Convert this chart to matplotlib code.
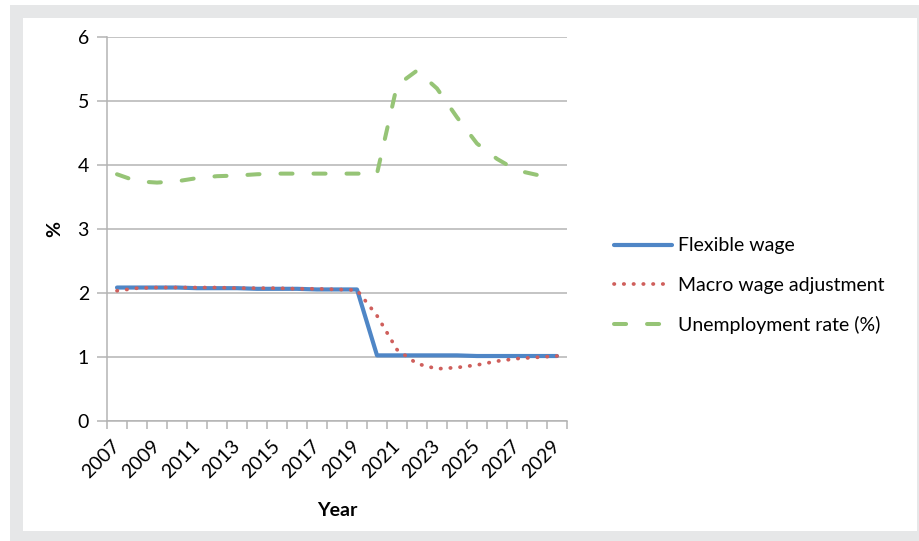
import numpy as np
import matplotlib
matplotlib.use("Agg")
import matplotlib.pyplot as plt
from matplotlib.patches import Rectangle

plt.rcParams['font.family'] = ['Lato', 'DejaVu Sans']

years = list(range(2007, 2030))
flexible_wage = [2.09, 2.09, 2.09, 2.09, 2.08, 2.08, 2.08, 2.07, 2.07, 2.07, 2.06, 2.06, 2.06,
                 1.03, 1.03, 1.03, 1.03, 1.03, 1.02, 1.02, 1.02, 1.02, 1.02]
macro_wage = [2.04, 2.08, 2.09, 2.09, 2.09, 2.09, 2.08, 2.08, 2.08, 2.07, 2.07, 2.06, 2.05,
              1.65, 1.12, 0.90, 0.82, 0.84, 0.88, 0.94, 0.98, 1.00, 1.02]
unemployment = [3.86, 3.75, 3.73, 3.75, 3.80, 3.83, 3.84, 3.86, 3.87, 3.87, 3.87, 3.87, 3.87,
                3.87, 5.25, 5.48, 5.20, 4.75, 4.34, 4.10, 3.92, 3.85, 3.80]
series_names = ["Flexible wage", "Macro wage adjustment", "Unemployment rate (%)"]

fig = plt.figure(figsize=(9.19, 5.41), dpi=100)
# grey frame with white panel
fig.patches.append(Rectangle((10 / 919, 0), 1, 536 / 541, transform=fig.transFigure,
                             facecolor='#e6e7e8', edgecolor='none', zorder=-2))
fig.patches.append(Rectangle((23 / 919, 10 / 541), 894 / 919, 513 / 541, transform=fig.transFigure,
                             facecolor='white', edgecolor='none', zorder=-1))

ax = fig.add_axes([107 / 919, 119.7 / 541, 460 / 919, 384 / 541])
ax.set_zorder(1)
ax.patch.set_alpha(0)
x = np.arange(len(years))

ax.plot(x, flexible_wage, color='#4f86c6', lw=3, solid_capstyle='round',
        label=series_names[0], zorder=3)
ax.plot(x, macro_wage, color='#cf5f5c', lw=2.7, linestyle=(0, (0.1, 2.5)),
        dash_capstyle='round', label=series_names[1], zorder=4)
ax.plot(x, unemployment, color='#96c476', lw=2.9, linestyle=(0, (3.0, 5.2)),
        dash_capstyle='round', label=series_names[2], zorder=3)

grid_col = '#b4b4b4'
ax.set_xlim(-0.5, len(years) - 0.5)
ax.set_ylim(0, 6)
ax.set_yticks(range(0, 7))
ax.yaxis.grid(True, color=grid_col, lw=1.1)
ax.set_axisbelow(True)

# category boundaries carry the tick marks, odd years carry the labels
ax.set_xticks(np.arange(-0.5, len(years), 1.0))
ax.set_xticklabels([])
ax.set_xticks(x[::2], minor=True)
ax.set_xticklabels([str(y) for y in years[::2]], minor=True, rotation=45,
                   ha='right', va='center', rotation_mode='anchor', fontsize=14)
ax.tick_params(axis='x', which='major', length=6, color=grid_col, width=1.1)
ax.tick_params(axis='x', which='minor', length=0, pad=16)
ax.tick_params(axis='y', length=7, color=grid_col, width=1.1, labelsize=14, pad=6)

for side in ['top', 'right']:
    ax.spines[side].set_visible(False)
for side in ['left', 'bottom']:
    ax.spines[side].set_color(grid_col)
    ax.spines[side].set_linewidth(1.1)

ax.set_xlabel("Year", fontsize=14, fontweight='bold')
ax.xaxis.set_label_coords(0.5, -0.21)
ax.set_ylabel("%", fontsize=14, fontweight='bold')
ax.yaxis.set_label_coords(-0.114, 0.5)
ax.yaxis.label.set_verticalalignment('center')

fig.legend(loc='upper left', bbox_to_anchor=(596 / 919, 1 - 220 / 541), frameon=False,
           fontsize=14, handlelength=3.0, handletextpad=0.3, labelspacing=1.15)

fig.savefig("out.png", dpi=100)
